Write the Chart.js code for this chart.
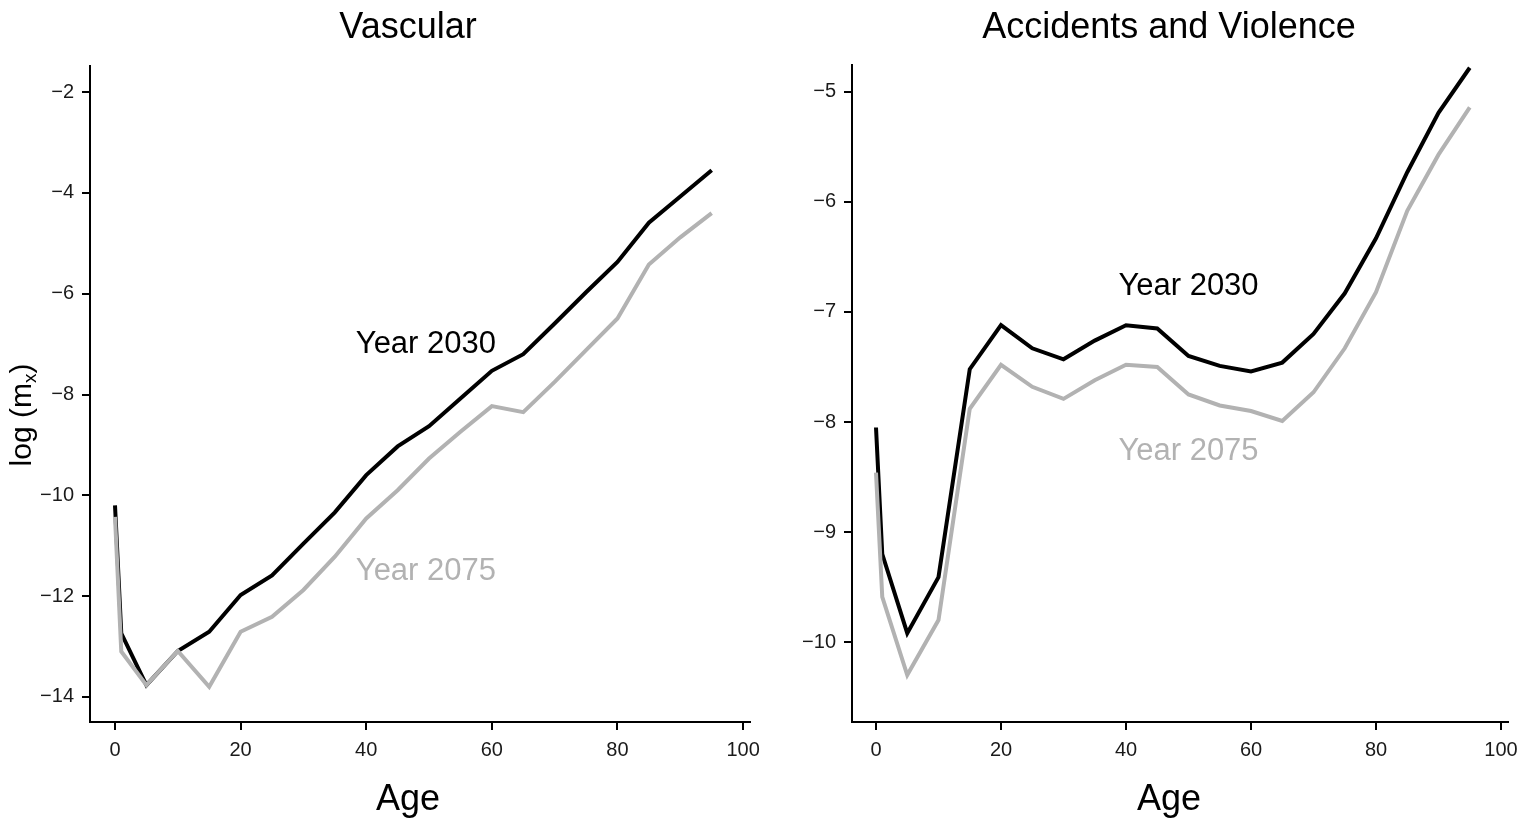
<!DOCTYPE html>
<html>
<head>
<meta charset="utf-8">
<script src="https://cdn.jsdelivr.net/npm/chart.js@4.4.1/dist/chart.umd.min.js"></script>
<style>
  html, body { margin: 0; padding: 0; background: #fff; }
  body { width: 1537px; height: 822px; position: relative; overflow: hidden; }
  canvas { position: absolute; top: 0; }
  #left { left: 0; }
  #right { left: 768px; }
</style>
</head>
<body>
<canvas id="left" width="768" height="822"></canvas>
<canvas id="right" width="769" height="822"></canvas>
<script>
// Age groups (years)
const ages = [0, 1, 5, 10, 15, 20, 25, 30, 35, 40, 45, 50, 55, 60, 65, 70, 75, 80, 85, 90, 95];

// Vascular: log death rates by age
const vascular2030 = [-10.2, -12.74, -13.77, -13.09, -12.71, -11.98, -11.59, -10.96, -10.34, -9.60, -9.03, -8.63, -8.08, -7.53, -7.20, -6.59, -5.97, -5.37, -4.59, -4.07, -3.55];
const vascular2075 = [-10.43, -13.1, -13.77, -13.09, -13.8, -12.71, -12.41, -11.88, -11.22, -10.46, -9.90, -9.27, -8.74, -8.23, -8.35, -7.75, -7.12, -6.49, -5.42, -4.88, -4.40];

// Accidents and violence: log death rates by age
const accidents2030 = [-8.05, -9.20, -9.92, -9.41, -7.52, -7.12, -7.33, -7.43, -7.26, -7.12, -7.15, -7.40, -7.49, -7.54, -7.46, -7.20, -6.83, -6.33, -5.73, -5.19, -4.78];
const accidents2075 = [-8.46, -9.59, -10.30, -9.80, -7.88, -7.48, -7.68, -7.79, -7.62, -7.48, -7.50, -7.75, -7.85, -7.90, -7.99, -7.73, -7.33, -6.82, -6.08, -5.57, -5.14];

// Axis ticks
const ageTicks = [0, 20, 40, 60, 80, 100];
const vascularTicks = [-14, -12, -10, -8, -6, -4, -2];
const accidentsTicks = [-10, -9, -8, -7, -6, -5];

// Series label anchors [age, log rate]
const vascularLabelAt = { y2030: [49.5, -7.0], y2075: [49.5, -11.52] };
const accidentsLabelAt = { y2030: [50, -6.77], y2075: [50, -8.27] };

const FONT = '"Liberation Sans", Arial, Helvetica, sans-serif';
const BLACK = '#000000';
const GREY = '#b2b2b2';

const pairs = (vals) => ages.map((a, i) => ({ x: a, y: vals[i] }));
const fmt = (v) => String(v).replace('-', '\u2212');

function panelPlugin(cfg) {
  return {
    id: 'panelText',
    afterDraw(chart) {
      const { ctx, scales } = chart;
      const xs = scales.x, ys = scales.y;
      ctx.save();
      ctx.fillStyle = '#000';
      ctx.textAlign = 'center';
      ctx.textBaseline = 'alphabetic';
      ctx.font = '36px ' + FONT;
      ctx.fillText(cfg.title, cfg.centerX, 38);
      ctx.fillText('Age', cfg.centerX, 810);

      ctx.textBaseline = 'middle';
      ctx.font = '31px ' + FONT;
      ctx.fillStyle = BLACK;
      ctx.fillText('Year 2030', xs.getPixelForValue(cfg.labels.y2030[0]), ys.getPixelForValue(cfg.labels.y2030[1]));
      ctx.fillStyle = GREY;
      ctx.fillText('Year 2075', xs.getPixelForValue(cfg.labels.y2075[0]), ys.getPixelForValue(cfg.labels.y2075[1]));

      if (cfg.yLabel) {
        ctx.save();
        ctx.translate(23, 415);
        ctx.rotate(-Math.PI / 2);
        ctx.fillStyle = '#000';
        ctx.textBaseline = 'middle';
        ctx.textAlign = 'left';
        const a = 'log (m';
        ctx.font = '30px ' + FONT;
        const wa = ctx.measureText(a).width;
        ctx.font = '19px ' + FONT;
        const wx = ctx.measureText('x').width;
        ctx.font = '30px ' + FONT;
        const wc = ctx.measureText(')').width;
        let px = -(wa + wx + wc) / 2;
        ctx.fillText(a, px, 0);
        px += wa;
        ctx.font = '19px ' + FONT;
        ctx.fillText('x', px, 8);
        px += wx;
        ctx.font = '30px ' + FONT;
        ctx.fillText(')', px, 0);
        ctx.restore();
      }
      ctx.restore();
    }
  };
}

function makePanel(canvasId, opts) {
  const axisCommon = {
    type: 'linear',
    grid: { drawOnChartArea: false, drawTicks: true, tickLength: 8, color: '#000', lineWidth: 2 },
    border: { display: true, color: '#000', width: 2 },
  };
  return new Chart(document.getElementById(canvasId), {
    type: 'line',
    data: {
      datasets: [
        { label: 'Year 2075', data: pairs(opts.s2075), borderColor: GREY, borderWidth: 4, pointRadius: 0, tension: 0, order: 0 },
        { label: 'Year 2030', data: pairs(opts.s2030), borderColor: BLACK, borderWidth: 4, pointRadius: 0, tension: 0, order: 1 },
      ]
    },
    options: {
      responsive: false,
      animation: false,
      devicePixelRatio: 1,
      layout: { padding: opts.padding },
      plugins: { legend: { display: false }, tooltip: { enabled: false }, title: { display: false } },
      scales: {
        x: Object.assign({}, axisCommon, {
          min: opts.xMin, max: opts.xMax,
          afterBuildTicks: (s) => { s.ticks = ageTicks.map(v => ({ value: v })); },
          afterFit: (s) => { s.height = 100; },
          ticks: { font: { family: FONT, size: 20 }, color: '#1a1a1a', padding: 8, maxRotation: 0, callback: (v) => fmt(v) },
        }),
        y: Object.assign({}, axisCommon, {
          min: opts.yMin, max: opts.yMax,
          afterBuildTicks: (s) => { s.ticks = opts.yTicks.map(v => ({ value: v })); },
          afterFit: (s) => { s.width = opts.yWidth; },
          ticks: { font: { family: FONT, size: 20 }, color: '#1a1a1a', padding: 8, callback: (v) => fmt(v) },
        }),
      }
    },
    plugins: [panelPlugin(opts.text)]
  });
}

makePanel('left', {
  s2030: vascular2030, s2075: vascular2075,
  xMin: -3.98, xMax: 101.1, yMin: -14.5, yMax: -1.48,
  yTicks: vascularTicks, yWidth: 90,
  padding: { left: 0, top: 66, right: 18, bottom: 0 },
  text: { title: 'Vascular', centerX: 408, labels: vascularLabelAt, yLabel: true }
});

makePanel('right', {
  s2030: accidents2030, s2075: accidents2075,
  xMin: -3.84, xMax: 101.12, yMin: -10.727, yMax: -4.755,
  yTicks: accidentsTicks, yWidth: 84,
  padding: { left: 0, top: 65, right: 29, bottom: 0 },
  text: { title: 'Accidents and Violence', centerX: 401, labels: accidentsLabelAt, yLabel: false }
});
</script>
</body>
</html>
